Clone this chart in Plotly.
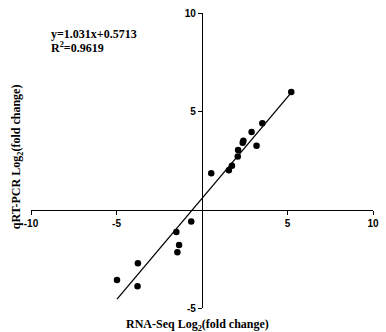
import plotly.graph_objects as go

# Data
rna_seq = [5.22, 3.53, 2.90, 2.42, 2.38, 3.19, 2.11, 2.09, 1.75, 1.57, 0.54,
           -0.63, -1.50, -1.34, -1.44, -3.75, -4.97, -3.77]
qrt_pcr = [5.98, 4.40, 3.95, 3.50, 3.40, 3.25, 3.03, 2.70, 2.23, 2.00, 1.85,
           -0.60, -1.13, -1.80, -2.17, -2.73, -3.58, -3.90]
slope = 1.031
intercept = 0.5713
r_squared = 0.9619
x_range = [-10, 10]
y_range = [-5, 10]
x_ticks = [-10, -5, 5, 10]
y_ticks = [-5, 5, 10]

W, H = 386, 332
ml, mr, mt, mb = 31, 8, 7, 24
pw, ph = W - ml - mr, H - mt - mb

def px_x(p):
    return (p - ml) / pw

def px_y(p):
    return (H - mb - p) / ph

fit_x = [min(rna_seq), max(rna_seq)]
fit_y = [slope * v + intercept for v in fit_x]

fig = go.Figure()
fig.add_trace(go.Scatter(x=fit_x, y=fit_y, mode="lines",
                         line=dict(color="black", width=1.3),
                         showlegend=False, hoverinfo="skip"))
fig.add_trace(go.Scatter(x=rna_seq, y=qrt_pcr, mode="markers",
                         marker=dict(color="black", size=6.5),
                         showlegend=False, cliponaxis=False))

tickfont = dict(family="Liberation Sans, Arial", size=10, color="black", weight="bold")
xpos = (0 - y_range[0]) / (y_range[1] - y_range[0])
ypos = (0 - x_range[0]) / (x_range[1] - x_range[0])

fig.update_layout(
    width=W, height=H,
    margin=dict(l=ml, r=mr, t=mt, b=mb),
    paper_bgcolor="white", plot_bgcolor="white",
    xaxis=dict(range=x_range, anchor="free", position=xpos,
               showline=True, linecolor="black", linewidth=1.3,
               showgrid=False, zeroline=False,
               ticks="outside", ticklen=4, tickwidth=1.3, tickcolor="black",
               tickvals=x_ticks, ticktext=[str(v) for v in x_ticks],
               tickfont=tickfont),
    yaxis=dict(range=y_range, anchor="free", position=ypos,
               showline=True, linecolor="black", linewidth=1.3,
               showgrid=False, zeroline=False,
               ticks="outside", ticklen=4, tickwidth=1.3, tickcolor="black",
               tickvals=y_ticks, ticktext=[str(v) for v in y_ticks],
               tickfont=tickfont),
)

serif = dict(family="Liberation Serif, Times New Roman", size=12, color="black", weight="bold")
fig.add_annotation(text=f"y={slope}x+{intercept}", xref="paper", yref="paper",
                   x=px_x(49), y=px_y(28), xanchor="left", yanchor="middle",
                   showarrow=False, font=serif)
fig.add_annotation(text=f"R<sup>2</sup>={r_squared}", xref="paper", yref="paper",
                   x=px_x(49), y=px_y(42), xanchor="left", yanchor="middle",
                   showarrow=False, font=serif)
fig.add_annotation(text="RNA-Seq Log<sub>2</sub>(fold change)", xref="paper", yref="paper",
                   x=px_x(200), y=px_y(325), xanchor="center", yanchor="middle",
                   showarrow=False, font=serif)
fig.add_annotation(text="qRT-PCR Log<sub>2</sub>(fold change)", xref="paper", yref="paper",
                   x=px_x(17), y=px_y(154), xanchor="center", yanchor="middle",
                   textangle=-90, showarrow=False, font=serif)

fig.write_html("out.html",
               config={"displayModeBar": False},
               post_script="document.body.style.margin='0';document.body.style.overflow='hidden';")
